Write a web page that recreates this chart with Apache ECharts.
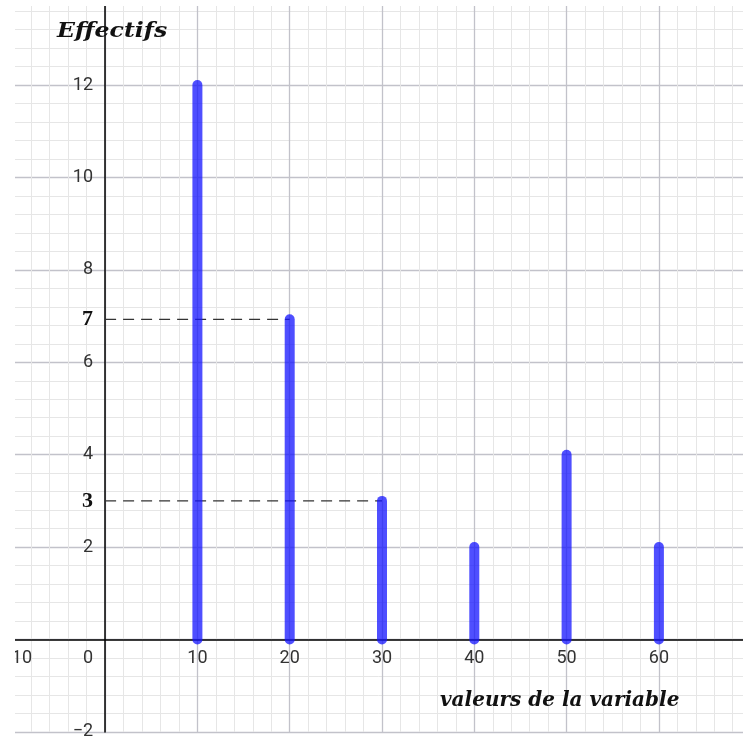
<!DOCTYPE html>
<html><head><meta charset="utf-8">
<script src="https://cdn.jsdelivr.net/npm/echarts@6/dist/echarts.min.js"></script>
<style>html,body{margin:0;padding:0;background:#fff}#c{width:743px;height:736px}</style>
</head><body><div id="c"></div>
<script>
// ---- data ----
const xValues = [10, 20, 30, 40, 50, 60];
const counts = [12, 6.93, 3, 2, 4, 2];
const guideIdx = [1, 2];               // bars with dashed reference lines
const yLabelValues = [-2, 2, 3, 4, 6, 6.93, 8, 10, 12];
const yAxisName = 'Effectifs';
const xAxisName = 'valeurs de la variable';

const chart = echarts.init(document.getElementById('c'));
const barData = xValues.map((x, i) => [x, counts[i]]);
const guideValues = guideIdx.map(i => counts[i]);
const guideSeries = guideIdx.map(i => ({
  type: 'line', data: [[0, counts[i]], [xValues[i], counts[i]]], symbol: 'none', silent: true,
  lineStyle: { color: '#333', width: 1.3, type: [11, 7] }, z: 3
}));

const sans = 'Roboto';
const G = { left: 12.8, right: -8.2, top: -7.3, bottom: 4.1 };
const xMin = -10, xMax = 70, yMin = -2, yMax = 14;
const W = 743, H = 736;
// shift the axes so they sit on zero
const yZeroFromBottom = (0 - yMin) / (yMax - yMin) * (H - G.top - G.bottom);
const xZeroFromLeft = (0 - xMin) / (xMax - xMin) * (W - G.left - G.right);

const option = {
  animation: false,
  grid: Object.assign({ containLabel: false, outerBoundsMode: 'none' }, G),
  xAxis: {
    type: 'value', min: xMin, max: xMax, interval: 10, position: 'bottom', offset: -yZeroFromBottom,
    axisLine: { onZero: false, lineStyle: { color: '#000', width: 1.5 } },
    axisTick: { show: false },
    axisLabel: {
      showMaxLabel: false, hideOverlap: false, margin: 10, fontFamily: sans, fontSize: 18, color: '#333',
      formatter: v => v === 0 ? '{z|0}' : (v < 0 ? '{m|\u2212' + Math.abs(v) + '}' : (v >= 70 ? '' : String(v))),
      rich: { z: { padding: [0, 34, 0, 0] }, m: { padding: [0, 0, 0, 8] } }
    },
    splitLine: { lineStyle: { color: '#c2c2ca', width: 1.3 } },
    minorTick: { show: false, splitNumber: 5 },
    minorSplitLine: { show: true, lineStyle: { color: '#e6e6e6', width: 1 } }
  },
  yAxis: {
    type: 'value', min: yMin, max: yMax, interval: 2, position: 'left', offset: -xZeroFromLeft,
    axisLine: { onZero: false, lineStyle: { color: '#000', width: 1.5 } },
    axisTick: { show: false },
    axisLabel: {
      customValues: yLabelValues, hideOverlap: false, margin: 12, fontFamily: sans, fontSize: 18, color: '#333',
      formatter: v => {
        if (guideValues.some(g => Math.abs(g - v) < 1e-9)) return '{b|' + Math.round(v) + '}';
        if (v < 0) return '\u2212' + Math.abs(v);
        return String(v);
      },
      rich: { b: { fontFamily: 'Liberation Serif', fontWeight: 'bold', fontSize: 22, color: '#111' } }
    },
    splitLine: { lineStyle: { color: '#c2c2ca', width: 1.3 } },
    minorTick: { show: false, splitNumber: 5 },
    minorSplitLine: { show: true, lineStyle: { color: '#e6e6e6', width: 1 } }
  },
  series: guideSeries.concat([{
    type: 'custom', data: barData, z: 5, silent: true,
    renderItem: (params, api) => {
      const x = api.value(0), y = api.value(1);
      const p0 = api.coord([x, 0]), p1 = api.coord([x, y]);
      return { type: 'line', shape: { x1: p0[0], y1: p0[1], x2: p1[0], y2: p1[1] },
        style: { stroke: 'rgba(20,20,255,0.75)', lineWidth: 10, lineCap: 'round' } };
    }
  }]),
  graphic: [
    { type: 'rect', left: 0, top: 0, shape: { width: 15, height: 736 }, style: { fill: '#fff' }, z: 100 },
    { type: 'rect', left: 0, top: 0, shape: { width: 743, height: 6 }, style: { fill: '#fff' }, z: 100 },
    { type: 'text', x: 57, y: 22, scaleX: 1.18, z: 100,
      style: { text: yAxisName, font: 'italic bold 20px "DejaVu Serif"', fill: '#111' } },
    { type: 'text', left: 440, top: 691, z: 100,
      style: { text: xAxisName, font: 'italic bold 20px "DejaVu Serif"', fill: '#111' } }
  ]
};
chart.setOption(option);
</script>
</body></html>
